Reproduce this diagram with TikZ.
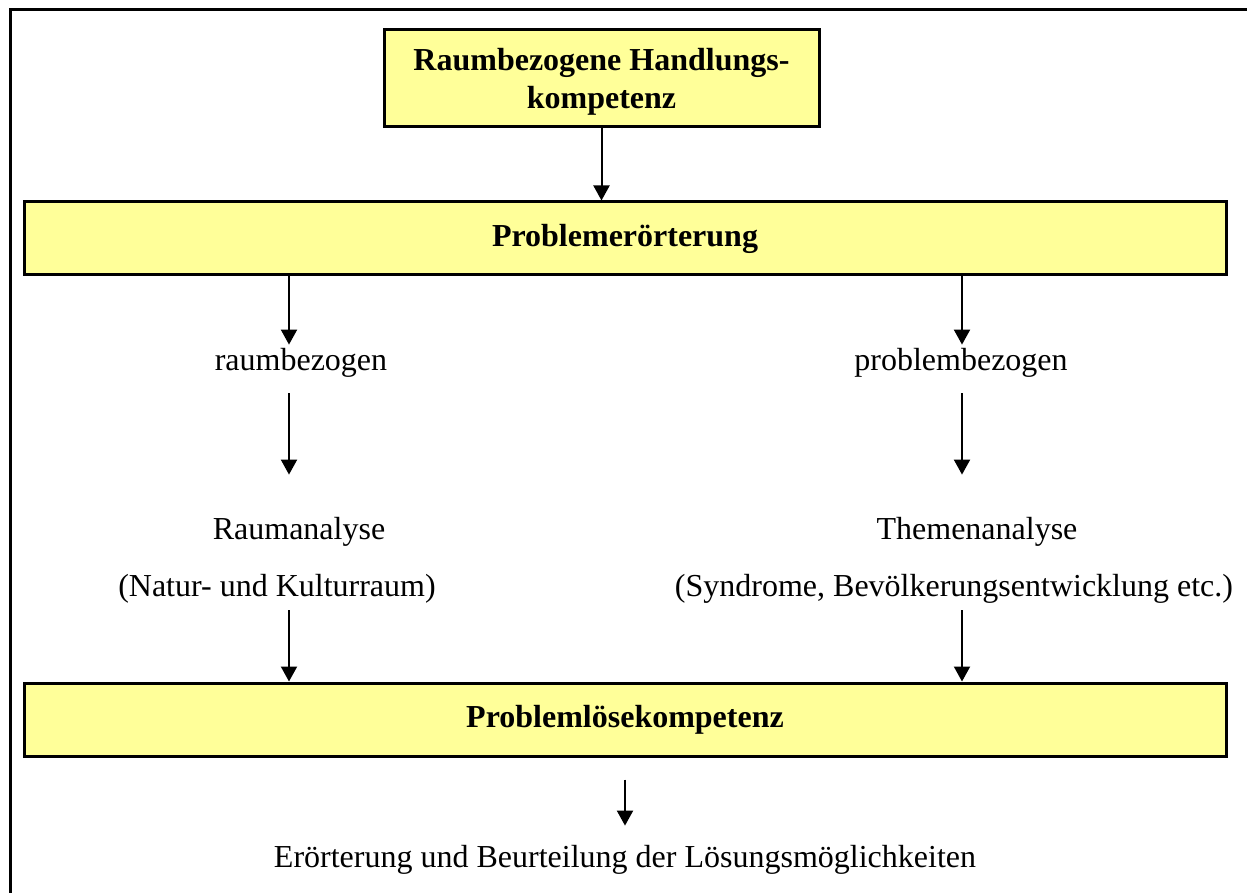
\documentclass[tikz,border=0pt]{standalone}
\usepackage{fontspec}
\setmainfont{Liberation Serif}
\usetikzlibrary{arrows.meta}
\definecolor{boxfill}{RGB}{255,255,153}
\tikzset{box/.style={draw,line width=3pt,fill=boxfill,align=center,inner sep=0pt,
 font=\fontsize{32}{38}\selectfont\bfseries},
 arr/.style={-{Triangle[width=16pt,length=15pt]},line width=2pt},
 lbl/.style={inner sep=0pt,anchor=base},
 every node/.style={font=\fontsize{32}{37}\selectfont}}

\begin{document}
\begin{tikzpicture}[x=1pt,y=-1pt]
\useasboundingbox (0,0) rectangle (1247,893);
\clip (0,0) rectangle (1247,893);
\draw[line width=3pt] (10,10) rectangle (1270,920);
% boxes
\node[box,minimum width=435pt,minimum height=97pt,text depth=-4pt] (hk) at (601.5,78.5) {Raumbezogene Handlungs-\\kompetenz};
\node[box,minimum width=1202pt,minimum height=73pt] (pe) at (625,238.5) {Problemerörterung};
\node[box,minimum width=1202pt,minimum height=73pt] (pl) at (625,719.5) {Problemlösekompetenz};
% columns
\coordinate (cl) at (289,0);
\coordinate (cr) at (962,0);
\node[lbl] (raumb) at (301,370) {raumbezogen};
\node[lbl] (probb) at (961,370) {problembezogen};
\node[lbl] (raumana) at (299,539) {Raumanalyse};
\node[lbl] (natur) at (277,596) {(Natur- und Kulturraum)};
\node[lbl] (themana) at (977,539) {Themenanalyse};
\node[lbl] (syndr) at (954,596) {(Syndrome, Bevölkerungsentwicklung etc.)};
\node[lbl] (eroert) at (625,867) {Erörterung und Beurteilung der Lösungsmöglichkeiten};
% arrows
\draw[arr] (hk.south) -- (hk.south |- pe.north);
\draw[arr,shorten >=3pt] (pe.south -| cl) -- (raumb.north -| cl);
\draw[arr,shorten >=3pt] (pe.south -| cr) -- (probb.north -| cr);
\draw[arr,shorten <=16pt,shorten >=42pt] (raumb.south -| cl) -- (raumana.north -| cl);
\draw[arr,shorten <=16pt,shorten >=42pt] (probb.south -| cr) -- (themana.north -| cr);
\draw[arr,shorten <=7pt] (natur.south -| cl) -- (pl.north -| cl);
\draw[arr,shorten <=7pt] (syndr.south -| cr) -- (pl.north -| cr);
\draw[arr,shorten <=22pt,shorten >=19pt] (pl.south) -- (eroert.north);
\end{tikzpicture}
\end{document}
